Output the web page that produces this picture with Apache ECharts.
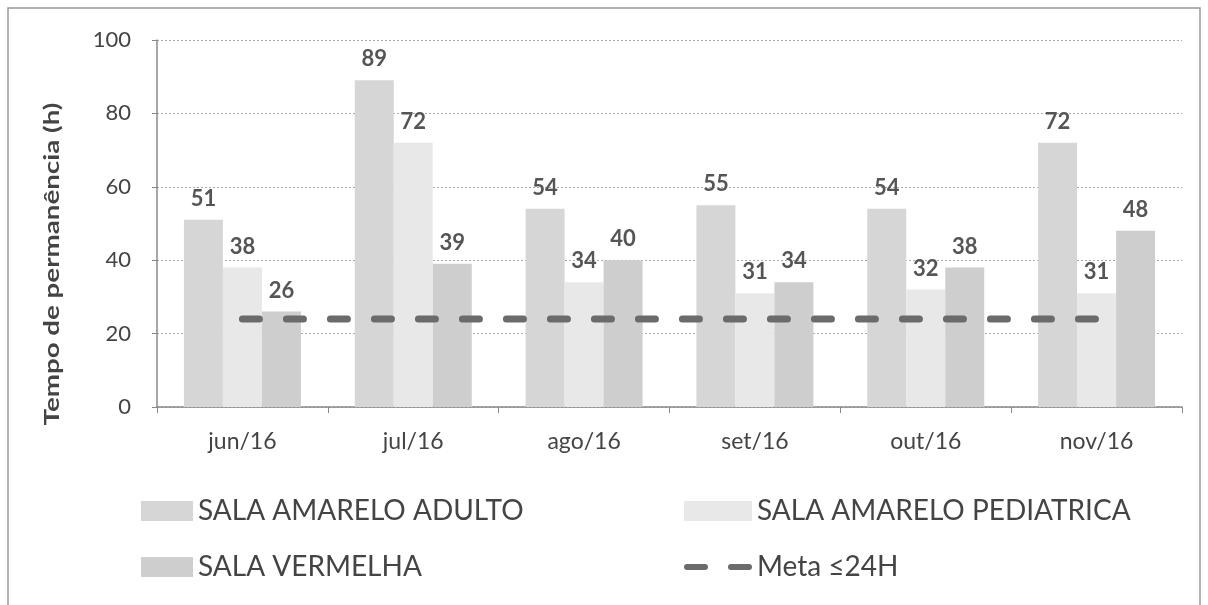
<!DOCTYPE html>
<html>
<head>
<meta charset="utf-8">
<script src="https://cdn.jsdelivr.net/npm/echarts@6/dist/echarts.min.js"></script>
<style>
  html, body { margin: 0; padding: 0; background: #fff; }
  #chart { width: 1208px; height: 605px; }
</style>
</head>
<body>
<div id="chart"></div>
<script>
const months = ['jun/16', 'jul/16', 'ago/16', 'set/16', 'out/16', 'nov/16']
const adulto = [51, 89, 54, 55, 54, 72]
const pediatrica = [38, 72, 34, 31, 32, 31]
const vermelha = [26, 39, 40, 34, 38, 48]
const meta = [24, 24, 24, 24, 24, 24]

const labelColor = '#555555'
const textColor = '#444444'

const chart = echarts.init(document.getElementById('chart'))

function barSeries(name, data, color) {
  return {
    name,
    type: 'bar',
    data,
    barWidth: 39,
    barGap: '0%',
    itemStyle: { color },
    label: {
      show: true,
      position: 'top',
      distance: 10,
      color: labelColor,
      fontFamily: 'Lato',
      fontWeight: 'bold',
      fontSize: 22
    }
  }
}

chart.setOption({
  animation: false,
  graphic: [
    {
      type: 'rect',
      shape: { x: 8, y: 8, width: 1192, height: 640 },
      style: { fill: 'none', stroke: '#999', lineWidth: 1.5 }
    },
    {
      // axis title, drawn stretched like the scanned original
      type: 'text',
      x: 52,
      y: 264,
      rotation: Math.PI / 2,
      scaleX: 1.32,
      style: {
        text: 'Tempo de permanência (h)',
        font: 'bold 21px Lato',
        fill: textColor,
        align: 'center',
        verticalAlign: 'middle'
      }
    }
  ],
  grid: { left: 157, right: 26, top: 40, bottom: 198 },
  legend: [
    {
      left: 136,
      top: 491,
      orient: 'vertical',
      itemGap: 26,
      itemWidth: 52,
      itemHeight: 20,
      textStyle: { fontFamily: 'Lato', fontSize: 28, color: textColor, lineHeight: 30 },
      data: [
        { name: 'SALA AMARELO ADULTO', icon: 'rect' },
        { name: 'SALA VERMELHA', icon: 'rect' }
      ]
    },
    {
      left: 679,
      top: 491,
      orient: 'vertical',
      itemGap: 26,
      itemWidth: 68,
      itemHeight: 20,
      textStyle: { fontFamily: 'Lato', fontSize: 28, color: textColor, lineHeight: 30 },
      data: [
        { name: 'SALA AMARELO PEDIATRICA', icon: 'rect' },
        {
          name: 'Meta ≤24H',
          icon: 'path://M3,0 H21 A3,3 0 0 1 21,6 H3 A3,3 0 0 1 3,0 Z M47,0 H65 A3,3 0 0 1 65,6 H47 A3,3 0 0 1 47,0 Z',
          itemStyle: { color: '#6b6b6b' }
        }
      ]
    }
  ],
  xAxis: {
    type: 'category',
    data: months,
    axisLine: { lineStyle: { color: '#888', width: 1.5 } },
    axisTick: { show: true, length: 6, lineStyle: { color: '#888' } },
    axisLabel: { color: textColor, fontFamily: 'Lato', fontSize: 23, margin: 23 }
  },
  yAxis: {
    type: 'value',
    min: 0,
    max: 100,
    interval: 20,
    axisLine: { show: true, lineStyle: { color: '#888', width: 1.5 } },
    axisTick: { show: true, length: 5, lineStyle: { color: '#888' } },
    axisLabel: { color: textColor, fontFamily: 'Lato', fontSize: 22, margin: 26 },
    splitLine: { lineStyle: { color: '#aaa', type: [2, 2], width: 1 } }
  },
  series: [
    barSeries('SALA AMARELO ADULTO', adulto, '#d6d6d6'),
    barSeries('SALA AMARELO PEDIATRICA', pediatrica, '#e8e8e8'),
    barSeries('SALA VERMELHA', vermelha, '#cecece'),
    {
      name: 'Meta ≤24H',
      type: 'line',
      data: meta,
      symbol: 'none',
      z: 5,
      itemStyle: { color: '#6b6b6b' },
      lineStyle: { color: '#6b6b6b', width: 7, type: [17, 27], cap: 'round' }
    }
  ]
})
</script>
</body>
</html>
